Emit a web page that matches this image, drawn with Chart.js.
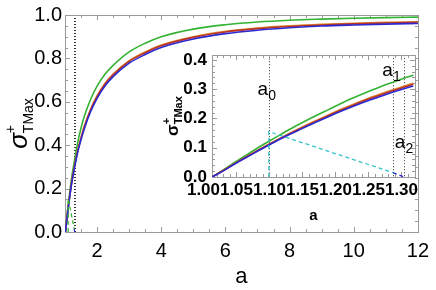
<!DOCTYPE html>
<html>
<head>
<meta charset="utf-8">
<script src="https://cdn.jsdelivr.net/npm/chart.js@4.4.0/dist/chart.umd.min.js"></script>
<style>
  html, body { margin: 0; padding: 0; background: #fff; }
  #wrap { position: relative; width: 436px; height: 290px; overflow: hidden; }
  #main { position: absolute; left: 0; top: 0; }
  #inset { position: absolute; left: 150px; top: 40px; }
</style>
</head>
<body>
<div id="wrap">
  <canvas id="main" width="436" height="290"></canvas>
  <canvas id="inset" width="280" height="190"></canvas>
</div>
<script>
// ---- main plot data (a from ~1 to 12)
var aMain      = [1.013, 1.05, 1.1, 1.2, 1.3, 1.4, 1.5, 1.6, 1.8, 2, 2.25, 2.5, 3, 3.5, 4, 5, 6, 7, 8, 9, 10, 11, 12];
var greenMain  = [0, 0.054, 0.123, 0.242, 0.334, 0.415, 0.48, 0.532, 0.612, 0.672, 0.728, 0.768, 0.83, 0.87, 0.9, 0.935, 0.955, 0.968, 0.976, 0.981, 0.985, 0.988, 0.99];
var orangeMain = [0, 0.05, 0.113, 0.223, 0.307, 0.38, 0.436, 0.487, 0.567, 0.628, 0.686, 0.728, 0.79, 0.83, 0.862, 0.9, 0.925, 0.94, 0.95, 0.957, 0.962, 0.966, 0.969];
var redMain    = [0, 0.049, 0.112, 0.22, 0.304, 0.376, 0.432, 0.483, 0.563, 0.624, 0.682, 0.724, 0.786, 0.826, 0.858, 0.897, 0.922, 0.937, 0.947, 0.954, 0.959, 0.963, 0.966];
var blueMain   = [0, 0.048, 0.11, 0.217, 0.299, 0.37, 0.426, 0.475, 0.555, 0.616, 0.674, 0.716, 0.778, 0.818, 0.85, 0.889, 0.914, 0.93, 0.941, 0.949, 0.954, 0.958, 0.961];

// ---- inset data (zoom on a from ~1.01 to 1.32)
var aInset      = [1.013, 1.03, 1.05, 1.07, 1.09, 1.11, 1.13, 1.15, 1.17, 1.19, 1.21, 1.23, 1.25, 1.27, 1.29, 1.31, 1.318];
var greenInset  = [0, 0.024, 0.054, 0.082, 0.11, 0.136, 0.162, 0.186, 0.209, 0.231, 0.253, 0.273, 0.292, 0.31, 0.326, 0.342, 0.348];
var orangeInset = [0, 0.022, 0.05, 0.075, 0.101, 0.125, 0.149, 0.171, 0.192, 0.213, 0.233, 0.251, 0.269, 0.285, 0.3, 0.315, 0.32];
var redInset    = [0, 0.022, 0.049, 0.075, 0.1, 0.124, 0.147, 0.169, 0.19, 0.21, 0.23, 0.248, 0.266, 0.282, 0.297, 0.311, 0.317];
var blueInset   = [0, 0.021, 0.048, 0.073, 0.098, 0.122, 0.145, 0.166, 0.187, 0.207, 0.226, 0.244, 0.261, 0.277, 0.292, 0.306, 0.311];

// special points and the dashed construction
var aMin = 1.013, a0 = 1.099, a1 = 1.287, a2 = 1.304;
var dashA  = [a0, a0, a1];
var dashY  = [0, 0.155, 0.015];
var tailA  = [a1, a2];
var tailY  = [0.015, 0];

// tick labels
var mainXTicks  = [2, 4, 6, 8, 10, 12];
var mainYTicks  = [0, 0.2, 0.4, 0.6, 0.8, 1.0];
var insetXTicks = [1.0, 1.05, 1.1, 1.15, 1.2, 1.25, 1.3];
var insetYTicks = [0, 0.1, 0.2, 0.3, 0.4];

var GREEN = '#33b233', ORANGE = '#dd8a2e', RED = '#b8322a', BLUE = '#2a2ad0', CYAN = '#33c4cc';

function pts(xs, ys) {
  return xs.map(function (x, i) { return {x: x, y: ys[i]}; });
}

function curve(data, color, w) {
  return {data: data, borderColor: color, borderWidth: w, pointRadius: 0, fill: false,
          cubicInterpolationMode: 'monotone'};
}
function dashed(data, color) {
  return {data: data, borderColor: color, borderWidth: 1.3, borderDash: [4, 3], pointRadius: 0, fill: false, tension: 0};
}

// frame, inward ticks, dotted lines, labels
function frameTicks(opts) {
  return {
    id: 'frameTicks',
    beforeDraw: function (chart) {
      var c = chart.ctx, ca = chart.chartArea;
      c.save();
      c.fillStyle = '#fff';
      if (opts.fillAll) c.fillRect(0, 0, chart.width, chart.height);
      else c.fillRect(ca.left, ca.top, ca.right - ca.left, ca.bottom - ca.top);
      c.restore();
    },
    beforeDatasetsDraw: function (chart) {
      var c = chart.ctx, ca = chart.chartArea, xs = chart.scales.x, ys = chart.scales.y;
      c.save();
      // dotted verticals
      c.strokeStyle = '#333';
      c.lineWidth = 1;
      c.setLineDash([1, 2]);
      opts.dotted.forEach(function (v) {
        var px = Math.round(xs.getPixelForValue(v)) + 0.5;
        c.beginPath(); c.moveTo(px, ca.top); c.lineTo(px, ca.bottom); c.stroke();
      });
      c.setLineDash([]);
      // frame
      c.strokeStyle = '#9a9a9a';
      c.strokeRect(Math.round(ca.left) + 0.5, Math.round(ca.top) + 0.5,
                   Math.round(ca.right - ca.left), Math.round(ca.bottom - ca.top));
      // ticks, inward on all four sides
      var v, px, len, k;
      for (k = Math.ceil(xs.min / opts.xMinor - 1e-6); k * opts.xMinor <= xs.max + 1e-9; k++) {
        v = k * opts.xMinor;
        len = Math.abs(v / opts.xMajor - Math.round(v / opts.xMajor)) < 1e-6 ? 5 : 3;
        px = Math.round(xs.getPixelForValue(v)) + 0.5;
        c.beginPath();
        c.moveTo(px, ca.bottom); c.lineTo(px, ca.bottom - len);
        c.moveTo(px, ca.top); c.lineTo(px, ca.top + len);
        c.stroke();
      }
      for (k = 0; k * opts.yMinor <= ys.max + 1e-9; k++) {
        v = k * opts.yMinor;
        len = Math.abs(v / opts.yMajor - Math.round(v / opts.yMajor)) < 1e-6 ? 5 : 3;
        px = Math.round(ys.getPixelForValue(v)) + 0.5;
        c.beginPath();
        c.moveTo(ca.left, px); c.lineTo(ca.left + len, px);
        c.moveTo(ca.right, px); c.lineTo(ca.right - len, px);
        c.stroke();
      }
      c.restore();
    },
    afterDraw: function (chart) {
      var c = chart.ctx, ca = chart.chartArea, xs = chart.scales.x, ys = chart.scales.y;
      var t = opts.title;
      c.save();
      c.fillStyle = '#000';
      // x title
      c.font = t.xFont;
      c.textAlign = 'center';
      c.textBaseline = 'alphabetic';
      c.fillText('a', (ca.left + ca.right) / 2, t.xBase);
      // y title: sigma with + superscript and TMax subscript, rotated
      c.translate(t.yBase, (ca.top + ca.bottom) / 2);
      c.rotate(-Math.PI / 2);
      c.textAlign = 'left';
      c.font = t.sigFont;
      var w1 = c.measureText('\u03c3').width;
      c.font = t.subFont;
      var w2 = c.measureText('TMax').width;
      var x0 = -(w1 + w2) / 2;
      c.font = t.sigFont;
      c.fillText('\u03c3', x0, 0);
      c.font = t.subFont;
      c.fillText('+', x0 + w1, -t.supUp);
      c.fillText('TMax', x0 + w1, t.subDown);
      c.restore();
      // point labels a0 a1 a2
      if (opts.marks) {
        c.save();
        c.fillStyle = '#000';
        c.textBaseline = 'alphabetic';
        opts.marks.forEach(function (m) {
          var px = xs.getPixelForValue(m.x), py = ys.getPixelForValue(m.y);
          c.font = '19px "Liberation Sans", Arial, sans-serif';
          c.fillText('a', px, py);
          var w = c.measureText('a').width;
          c.font = '14px "Liberation Sans", Arial, sans-serif';
          c.fillText(m.sub, px + w, py + 5);
        });
        c.restore();
      }
    }
  };
}

function fixedTicks(list) {
  return function (scale) { scale.ticks = list.map(function (v) { return {value: v}; }); };
}

// ---- main chart
new Chart(document.getElementById('main'), {
  type: 'line',
  data: {
    datasets: [
      dashed(pts(dashA, dashY), GREEN),
      dashed(pts(tailA, tailY), BLUE),
      curve(pts(aMain, blueMain), BLUE, 1.6),
      curve(pts(aMain, redMain), RED, 1.6),
      curve(pts(aMain, orangeMain), ORANGE, 1.6),
      curve(pts(aMain, greenMain), GREEN, 1.6)
    ]
  },
  options: {
    responsive: false,
    devicePixelRatio: 1,
    animation: false,
    layout: {padding: {left: 0, top: 11, right: 13, bottom: 0}},
    plugins: {legend: {display: false}, tooltip: {enabled: false}},
    scales: {
      x: {
        type: 'linear', min: 1, max: 12,
        afterBuildTicks: fixedTicks(mainXTicks),
        afterFit: function (s) { s.height = 58; },
        grid: {display: false, drawTicks: false}, border: {display: false},
        ticks: {padding: 7, maxRotation: 0, autoSkip: false, color: '#000',
                font: {family: '"Liberation Sans", Arial, sans-serif', size: 20},
                callback: function (v) { return String(v); }}
      },
      y: {
        type: 'linear', min: 0, max: 1,
        afterBuildTicks: fixedTicks(mainYTicks),
        afterFit: function (s) { s.width = 65; },
        grid: {display: false, drawTicks: false}, border: {display: false},
        ticks: {padding: 3, color: '#000',
                font: {family: '"Liberation Sans", Arial, sans-serif', size: 20},
                callback: function (v) { return v.toFixed(1); }}
      }
    }
  },
  plugins: [frameTicks({
    fillAll: true, dotted: [aMin, a1, a2],
    xMinor: 0.5, xMajor: 2, yMinor: 0.05, yMajor: 0.2,
    title: {xFont: '22px "Liberation Sans", Arial, sans-serif', xBase: 283,
            yBase: 27, sigFont: 'italic 26px "Liberation Sans", Arial, sans-serif',
            subFont: '14px "Liberation Sans", Arial, sans-serif', supUp: 12, subDown: 6}
  })]
});

// ---- inset chart
new Chart(document.getElementById('inset'), {
  type: 'line',
  data: {
    datasets: [
      dashed(pts(dashA, dashY), CYAN),
      dashed(pts(tailA, tailY), BLUE),
      curve(pts(aInset, blueInset), BLUE, 1.6),
      curve(pts(aInset, redInset), RED, 1.6),
      curve(pts(aInset, orangeInset), ORANGE, 1.6),
      curve(pts(aInset, greenInset), GREEN, 1.6)
    ]
  },
  options: {
    responsive: false,
    devicePixelRatio: 1,
    animation: false,
    layout: {padding: {left: 0, top: 11, right: 15, bottom: 0}},
    plugins: {legend: {display: false}, tooltip: {enabled: false}},
    scales: {
      x: {
        type: 'linear', min: 1.0129, max: 1.3205,
        afterBuildTicks: fixedTicks(insetXTicks),
        afterFit: function (s) { s.height = 53; },
        grid: {display: false, drawTicks: false}, border: {display: false},
        ticks: {padding: 3, maxRotation: 0, autoSkip: false, color: '#000',
                font: {family: '"Liberation Sans", Arial, sans-serif', size: 17, weight: 'bold'},
                callback: function (v) { return v.toFixed(2); }}
      },
      y: {
        type: 'linear', min: 0, max: 0.416,
        afterBuildTicks: fixedTicks(insetYTicks),
        afterFit: function (s) { s.width = 62; },
        grid: {display: false, drawTicks: false}, border: {display: false},
        ticks: {padding: 5, color: '#000',
                font: {family: '"Liberation Sans", Arial, sans-serif', size: 17, weight: 'bold'},
                callback: function (v) { return v.toFixed(1); }}
      }
    }
  },
  plugins: [frameTicks({
    fillAll: false, dotted: [aMin, a0, a1, a2],
    xMinor: 0.01, xMajor: 0.05, yMinor: 0.02, yMajor: 0.1,
    title: {xFont: 'bold 15px "Liberation Sans", Arial, sans-serif', xBase: 180,
            yBase: 28, sigFont: 'bold 17px "Liberation Sans", Arial, sans-serif',
            subFont: 'bold 11px "Liberation Sans", Arial, sans-serif', supUp: 8, subDown: 4},
    marks: [{x: a0 - 0.017, y: 0.28, sub: '0'}, {x: a1 - 0.016, y: 0.345, sub: '1'},
            {x: a2 - 0.014, y: 0.1, sub: '2'}]
  })]
});
</script>
</body>
</html>
